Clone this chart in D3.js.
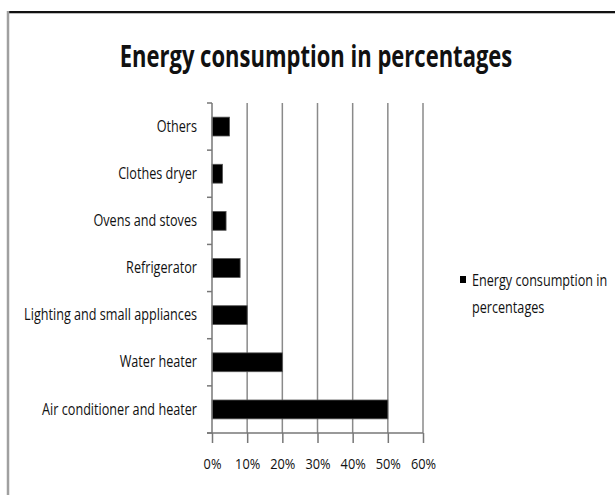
<!DOCTYPE html>
<html>
<head>
<meta charset="utf-8">
<script src="https://cdn.jsdelivr.net/npm/d3@7"></script>
<style>
  html, body { margin: 0; padding: 0; background: #fff; }
  svg { display: block; }
  text { font-family: "Open Sans", "Liberation Sans", sans-serif; fill: #111; }
</style>
</head>
<body>
<svg id="chart" width="615" height="495"></svg>
<script>
// Household energy use, share of total
const categories = [
  "Others",
  "Clothes dryer",
  "Ovens and stoves",
  "Refrigerator",
  "Lighting and small appliances",
  "Water heater",
  "Air conditioner and heater"
];
const shares = [0.05, 0.03, 0.04, 0.08, 0.10, 0.20, 0.50];
const xTicks = [0, 0.1, 0.2, 0.3, 0.4, 0.5, 0.6];
const titleText = "Energy consumption in percentages";
const legendLines = ["Energy consumption in", "percentages"];

const data = categories.map((c, i) => ({ category: c, value: shares[i] }));

const svg = d3.select("#chart");
const W = 615, H = 495;
const plot = { left: 212, right: 423, top: 103, bottom: 433 };
const labelPad = 15;
const squeeze = { title: 0.71, label: 0.79, tick: 0.85, legend: 0.79 };

svg.append("rect").attr("width", W).attr("height", H).attr("fill", "#fff");

// chart frame
svg.append("line").attr("x1", 7).attr("x2", W).attr("y1", 12).attr("y2", 12)
  .attr("stroke", "#111").attr("stroke-width", 2);
svg.append("line").attr("x1", 7).attr("x2", W).attr("y1", 13.5).attr("y2", 13.5)
  .attr("stroke", "#bbb").attr("stroke-width", 1);
svg.append("line").attr("x1", 8).attr("x2", 8).attr("y1", 11).attr("y2", H)
  .attr("stroke", "#a0a0a0").attr("stroke-width", 2.5);

// title, drawn in a horizontally condensed frame
svg.append("g")
  .attr("transform", `translate(316,67) scale(${squeeze.title},1)`)
  .append("text")
  .attr("text-anchor", "middle")
  .attr("font-size", 31).attr("font-weight", 700)
  .text(titleText);

const x = d3.scaleLinear().domain([0, 0.6]).range([plot.left, plot.right]);
const y = d3.scaleBand().domain(categories).range([plot.top, plot.bottom])
  .paddingInner(0.6).paddingOuter(0.3);
const step = y.step();

// vertical gridlines
svg.append("g").selectAll("line").data(xTicks.slice(1)).join("line")
  .attr("x1", d => x(d)).attr("x2", d => x(d))
  .attr("y1", plot.top).attr("y2", plot.bottom)
  .attr("stroke", "#8a8a8a").attr("stroke-width", 1.5);

// bars
svg.append("g").selectAll("rect").data(data).join("rect")
  .attr("x", x(0))
  .attr("y", d => y(d.category))
  .attr("width", d => x(d.value) - x(0))
  .attr("height", y.bandwidth())
  .attr("fill", "#000")
  .attr("stroke", "#555").attr("stroke-width", 0.8);

// x axis
const xAxis = svg.append("g")
  .attr("transform", `translate(0,${plot.bottom})`)
  .call(d3.axisBottom(x).tickValues(xTicks).tickFormat(d3.format(".0%"))
    .tickSize(10).tickPadding(15));
xAxis.select(".domain").remove();
xAxis.selectAll(".tick line").attr("stroke", "#777").attr("stroke-width", 1.5);
xAxis.selectAll(".tick text").attr("font-size", 15).attr("fill", "#111")
  .attr("font-family", "Open Sans, sans-serif")
  .attr("transform", `scale(${squeeze.tick},1)`);
svg.append("line").attr("x1", plot.left - 5).attr("x2", plot.right)
  .attr("y1", plot.bottom).attr("y2", plot.bottom)
  .attr("stroke", "#777").attr("stroke-width", 1.5);

// y axis: labels centred on bars, ticks on category boundaries
const yAxis = svg.append("g")
  .attr("transform", `translate(${plot.left},0)`)
  .call(d3.axisLeft(y).tickSize(0).tickPadding(labelPad));
yAxis.select(".domain").remove();
yAxis.selectAll(".tick text").attr("font-size", 16).attr("fill", "#111")
  .attr("font-family", "Open Sans, sans-serif")
  .attr("x", -labelPad / squeeze.label)
  .attr("transform", `scale(${squeeze.label},1)`);

const bounds = categories.map(c => y(c) - step * y.paddingInner() / 2)
  .concat([y(categories[categories.length - 1]) + y.bandwidth() + step * y.paddingInner() / 2]);
svg.append("g").selectAll("line").data(bounds).join("line")
  .attr("x1", plot.left - 5).attr("x2", plot.left)
  .attr("y1", d => d).attr("y2", d => d)
  .attr("stroke", "#777").attr("stroke-width", 1.5);
svg.append("line").attr("x1", plot.left).attr("x2", plot.left)
  .attr("y1", plot.top).attr("y2", plot.bottom)
  .attr("stroke", "#777").attr("stroke-width", 1.5);

// legend
const legend = svg.append("g").attr("transform", "translate(460,276)");
legend.append("rect").attr("width", 6).attr("height", 7).attr("fill", "#000");
legend.selectAll("g.line").data(legendLines).join("g")
  .attr("class", "line")
  .attr("transform", (d, i) => `translate(12,${10 + i * 27}) scale(${squeeze.legend},1)`)
  .append("text")
  .attr("font-size", 16)
  .text(d => d);
</script>
</body>
</html>
